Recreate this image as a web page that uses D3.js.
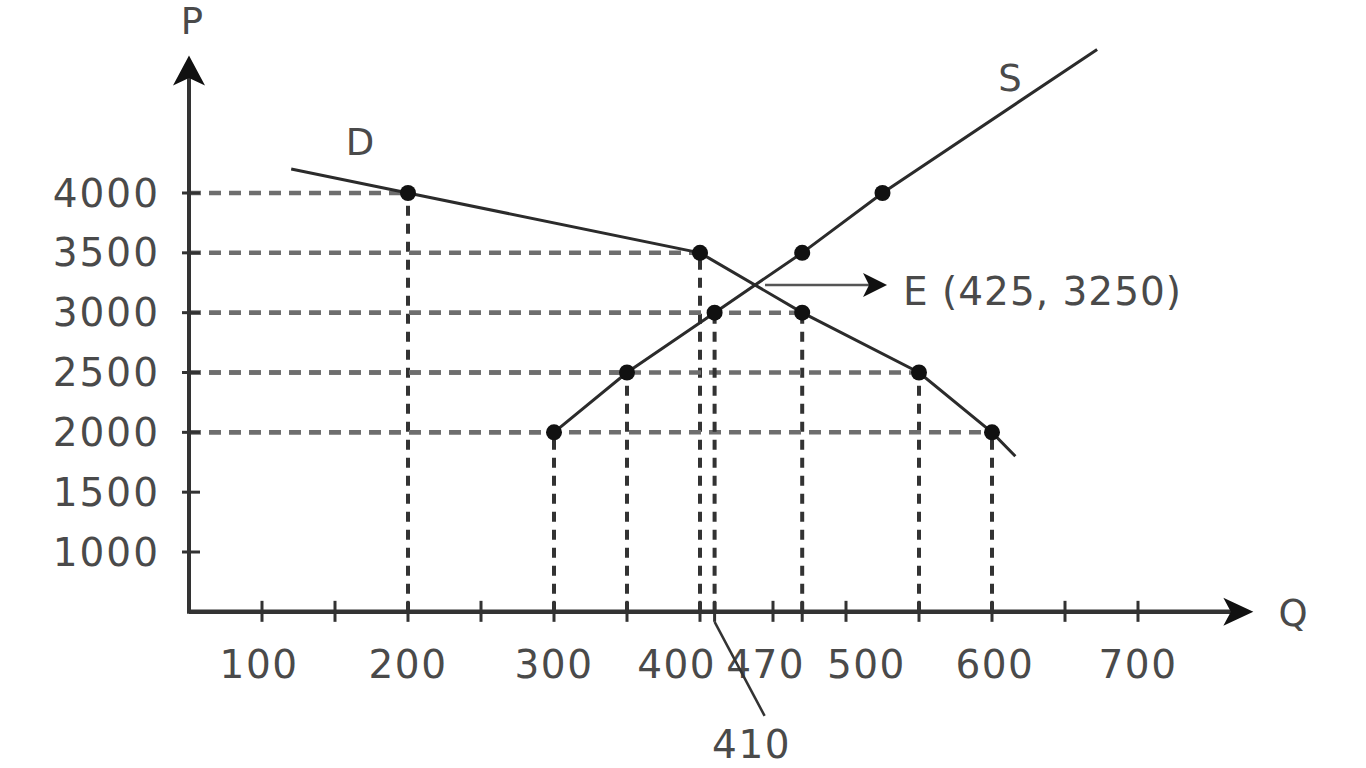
<!DOCTYPE html>
<html>
<head>
<meta charset="utf-8">
<script src="https://cdn.jsdelivr.net/npm/d3@7"></script>
<style>
  html, body { margin: 0; padding: 0; background: #fff; }
  svg { display: block; }
  text { font-family: "DejaVu Sans", sans-serif; fill: #4a4a4a; }
</style>
</head>
<body>
<svg id="chart" width="1366" height="768"></svg>
<script>
// ---- data ----
const demandQ = [200, 400, 470, 550, 600];
const demandP = [4000, 3500, 3000, 2500, 2000];
const supplyQ = [300, 350, 410, 470, 525];
const supplyP = [2000, 2500, 3000, 3500, 4000];
// line extensions beyond the plotted points
const demandStart = [120, 4200];
const demandEnd = [616, 1800];
const supplyEnd = [672, 5200];
const yTicks = [1000, 1500, 2000, 2500, 3000, 3500, 4000];
const xTicks = [100, 150, 200, 250, 300, 350, 400, 410, 450, 470, 500, 550, 600, 650, 700];
const xTickLabels = ["100", "200", "300", "400", "470", "500", "600", "700"];
const xTickLabelAt = [98, 200, 300, 384, 445, 514, 602, 700];
const equilibrium = { q: 425, p: 3250 };
const calloutQ = 410;
// which dashed guides are drawn: [q, p]
const guides = [
  [200, 4000], [400, 3500], [470, 3000], [550, 2500], [600, 2000],
  [300, 2000], [350, 2500], [410, 3000]
];

// ---- scales ----
const x = d3.scaleLinear().domain([0, 700]).range([116, 1138]);
const y = d3.scaleLinear().domain([1000, 4000]).range([552, 193]);
const q0 = 50, p0 = 500;          // axis origin in data units
const qMax = 779, pMax = 5150;    // arrow tips

const svg = d3.select("#chart");
const ink = "#2b2b2b";

// ---- dashed guides ----
const gG = svg.append("g");
guides.forEach(([q, p]) => {
  gG.append("line")
    .attr("x1", x(q0)).attr("y1", y(p)).attr("x2", x(q)).attr("y2", y(p))
    .attr("stroke", "#6e6e6e").attr("stroke-width", 4.5).attr("stroke-dasharray", "12,8");
  gG.append("line")
    .attr("x1", x(q)).attr("y1", y(p0)).attr("x2", x(q)).attr("y2", y(p))
    .attr("stroke", "#333").attr("stroke-width", 4).attr("stroke-dasharray", "10,8");
});

function arrowHead(x1, y1, x2, y2, len, half) {
  const a = Math.atan2(y2 - y1, x2 - x1);
  const bx = x2 - len * Math.cos(a), by = y2 - len * Math.sin(a);
  const nx = -Math.sin(a), ny = Math.cos(a);
  const ix = x2 - len * 0.75 * Math.cos(a), iy = y2 - len * 0.75 * Math.sin(a);
  return `M${x2},${y2} L${bx + nx * half},${by + ny * half} L${ix},${iy} L${bx - nx * half},${by - ny * half} Z`;
}

// ---- axes ----
const ax = svg.append("g");
ax.append("line").attr("x1", x(q0)).attr("y1", y(p0)).attr("x2", x(qMax) - 20).attr("y2", y(p0))
  .attr("stroke", "#333").attr("stroke-width", 4.5);
ax.append("line").attr("x1", x(q0)).attr("y1", y(p0) + 2).attr("x2", x(q0)).attr("y2", y(pMax) + 20)
  .attr("stroke", "#333").attr("stroke-width", 4);
ax.append("path").attr("d", arrowHead(x(q0), y(p0), x(qMax), y(p0), 30, 14)).attr("fill", "#111");
ax.append("path").attr("d", arrowHead(x(q0), y(p0), x(q0), y(pMax), 30, 16)).attr("fill", "#111");

// ticks
xTicks.forEach(q => {
  ax.append("line").attr("x1", x(q)).attr("x2", x(q)).attr("y1", y(p0) - 11).attr("y2", y(p0) + 10)
    .attr("stroke", "#333").attr("stroke-width", 3);
});
yTicks.forEach(p => {
  ax.append("line").attr("x1", x(q0) - 7).attr("x2", x(q0) + 11).attr("y1", y(p)).attr("y2", y(p))
    .attr("stroke", "#333").attr("stroke-width", 3);
  ax.append("text").attr("x", 160).attr("y", y(p)).attr("text-anchor", "end")
    .attr("dominant-baseline", "central").attr("font-size", 39).attr("letter-spacing", 2)
    .text(p);
});
xTickLabels.forEach((t, i) => {
  ax.append("text").attr("x", x(xTickLabelAt[i])).attr("y", 664).attr("text-anchor", "middle")
    .attr("dominant-baseline", "central").attr("font-size", 39).attr("letter-spacing", 1.5)
    .text(t);
});

// axis titles
svg.append("text").attr("x", 192).attr("y", 21).attr("text-anchor", "middle")
  .attr("dominant-baseline", "central").attr("font-size", 37).text("P");
svg.append("text").attr("x", 1293).attr("y", 613).attr("text-anchor", "middle")
  .attr("dominant-baseline", "central").attr("font-size", 37).text("Q");

// ---- curves ----
const line = d3.line().x(d => x(d[0])).y(d => y(d[1]));
const dPts = [demandStart].concat(demandQ.map((q, i) => [q, demandP[i]]), [demandEnd]);
const sPts = supplyQ.map((q, i) => [q, supplyP[i]]).concat([supplyEnd]);
svg.append("path").attr("d", line(dPts)).attr("fill", "none").attr("stroke", ink).attr("stroke-width", 3);
svg.append("path").attr("d", line(sPts)).attr("fill", "none").attr("stroke", ink).attr("stroke-width", 3);

// dots
const dots = demandQ.map((q, i) => [q, demandP[i]]).concat(supplyQ.map((q, i) => [q, supplyP[i]]));
svg.selectAll("circle.pt").data(dots).enter().append("circle")
  .attr("cx", d => x(d[0])).attr("cy", d => y(d[1])).attr("r", 8).attr("fill", "#111");

// curve labels
svg.append("text").attr("x", 360).attr("y", 142).attr("text-anchor", "middle")
  .attr("dominant-baseline", "central").attr("font-size", 37).text("D");
svg.append("text").attr("x", 1010).attr("y", 78).attr("text-anchor", "middle")
  .attr("dominant-baseline", "central").attr("font-size", 37).text("S");

// ---- equilibrium annotation ----
function seg(p) { return [x(p[0]), y(p[1])]; }
function intersect(a1, a2, b1, b2) {
  const [x1, y1] = seg(a1), [x2, y2] = seg(a2), [x3, y3] = seg(b1), [x4, y4] = seg(b2);
  const den = (x1 - x2) * (y3 - y4) - (y1 - y2) * (x3 - x4);
  const t = ((x1 - x3) * (y3 - y4) - (y1 - y3) * (x3 - x4)) / den;
  return [x1 + t * (x2 - x1), y1 + t * (y2 - y1)];
}
const ei = intersect([demandQ[1], demandP[1]], [demandQ[2], demandP[2]],
                     [supplyQ[2], supplyP[2]], [supplyQ[3], supplyP[3]]);
const arrowX2 = ei[0] + 132;
svg.append("line").attr("x1", ei[0] + 10).attr("y1", ei[1]).attr("x2", arrowX2 - 15).attr("y2", ei[1])
  .attr("stroke", "#555").attr("stroke-width", 2.5);
svg.append("path").attr("d", arrowHead(ei[0], ei[1], arrowX2, ei[1], 24, 12)).attr("fill", "#111");
svg.append("text").attr("x", arrowX2 + 16).attr("y", ei[1] + 6).attr("dominant-baseline", "central")
  .attr("font-size", 39).attr("letter-spacing", 1)
  .text(`E (${equilibrium.q}, ${equilibrium.p})`);

// ---- 410 callout ----
svg.append("line").attr("x1", x(calloutQ)).attr("y1", y(p0) + 10).attr("x2", x(calloutQ) + 50).attr("y2", y(p0) + 104)
  .attr("stroke", "#333").attr("stroke-width", 2.5);
svg.append("text").attr("x", x(calloutQ) + 37).attr("y", 744).attr("text-anchor", "middle")
  .attr("dominant-baseline", "central").attr("font-size", 39).attr("letter-spacing", 1.5)
  .text(calloutQ);
</script>
</body>
</html>
